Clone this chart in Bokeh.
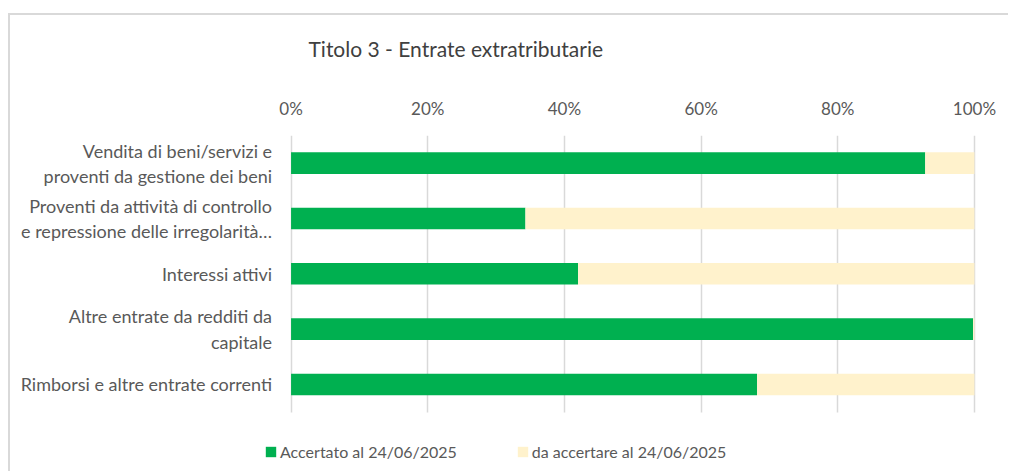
from bokeh.plotting import figure
from bokeh.models import Range1d, FixedTicker, NumeralTickFormatter, Legend, LegendItem, ColumnDataSource, Grid
from bokeh.core.properties import value
from bokeh.embed import file_html
from bokeh.resources import INLINE

categories = [
    "Vendita di beni/servizi e\nproventi da gestione dei beni",
    "Proventi da attività di controllo\ne repressione delle irregolarità…",
    "Interessi attivi",
    "Altre entrate da redditi da\ncapitale",
    "Rimborsi e altre entrate correnti",
]
accertato = [0.928, 0.343, 0.420, 0.998, 0.682]
da_accertare = [0.072, 0.657, 0.580, 0.002, 0.318]
x_ticks = [0, 0.2, 0.4, 0.6, 0.8, 1.0]
series_names = ["Accertato al 24/06/2025", "da accertare al 24/06/2025"]
colors = ["#00B050", "#FFF2CC"]

FONT = "Lato"
TXT = "#595959"

# layout constants (pixels)
W, H = 998, 456
TOP = 120
X0_PX, X1_PX = 280, 962           # where 0% and 100% sit in the canvas
ROW_PX = 55                       # height of one category row
n = len(categories)
px_per_unit = X1_PX - X0_PX
frame_h = H - TOP

ypos = [n - 0.5 - i for i in range(n)]
source = ColumnDataSource(dict(y=ypos, cat=categories, acc=accertato, da=da_accertare))

p = figure(width=W + 2, height=H + 2, output_backend="svg", toolbar_location=None,
           x_range=Range1d(-X0_PX / px_per_unit, 1 + (W - X1_PX) / px_per_unit),
           y_range=Range1d(n - frame_h / ROW_PX, n),
           x_axis_location="above",
           min_border_left=0, min_border_right=0, min_border_top=TOP, min_border_bottom=0)
p.styles = {"border-top": "2px solid #d9d9d9", "border-left": "2px solid #d9d9d9",
            "margin-top": "13px", "margin-left": "8px"}

p.outline_line_color = None
p.yaxis.visible = False
p.ygrid.grid_line_color = None

grid = p.xgrid[0]
if "cross_bounds" in Grid.properties():
    grid.grid_line_color = "#D9D9D9"
    grid.grid_line_width = 1.5
    grid.cross_bounds = (0, n)
else:
    grid.grid_line_color = None
    p.segment(x0=x_ticks, x1=x_ticks, y0=[0] * len(x_ticks), y1=[n] * len(x_ticks),
              line_color="#D9D9D9", line_width=1.5)

rs = p.hbar_stack(["acc", "da"], y="y", height=0.39, color=colors, line_color=None, source=source)

p.text(x=0, y="y", text="cat", source=source, x_offset=-19, text_align="right", text_baseline="middle",
       text_font=value(FONT), text_font_size=value("18px"), text_color=TXT, text_line_height=1.15)

p.title.text = "Titolo 3 - Entrate extratributarie"
p.title.align = "left"
p.title.offset = 298
p.title.text_font = FONT
p.title.text_font_style = "normal"
p.title.text_font_size = "21px"
p.title.text_color = "#404040"
p.title.standoff = 10

xa = p.xaxis[0]
xa.ticker = FixedTicker(ticks=x_ticks)
xa.formatter = NumeralTickFormatter(format="0%")
xa.axis_line_color = None
xa.major_tick_line_color = None
xa.minor_tick_line_color = None
xa.major_tick_in = 0
xa.major_tick_out = 0
xa.minor_tick_in = 0
xa.minor_tick_out = 0
xa.major_label_standoff = 17
xa.major_label_text_font = FONT
xa.major_label_text_font_size = "17px"
xa.major_label_text_color = TXT
xa.axis_label = " "
xa.axis_label_text_font_size = "10px"
xa.axis_label_standoff = 15

legend = Legend(items=[LegendItem(label=series_names[i], renderers=[rs[i]]) for i in range(2)],
                orientation="horizontal", location=(254, 12),
                glyph_width=13, glyph_height=13, label_height=20, label_standoff=3, spacing=59,
                padding=0, margin=0, border_line_color=None, background_fill_alpha=0,
                label_text_font=FONT, label_text_font_size="16px", label_text_color=TXT)
p.add_layout(legend, "center")

open("out.html", "w").write(file_html(p, INLINE))
